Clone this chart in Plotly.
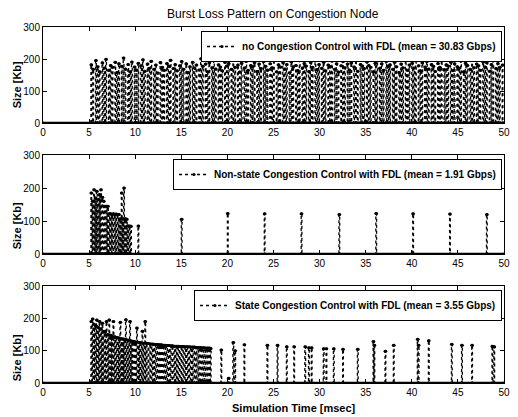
import plotly.graph_objects as go

# ---------------- data ----------------
title_text = "Burst Loss Pattern on Congestion Node"
x_title = "Simulation Time [msec]"
y_title = "Size [Kb]"
x_ticks = [0, 5, 10, 15, 20, 25, 30, 35, 40, 45, 50]
y_ticks = [0, 100, 200, 300]

series_names = [
    "no Congestion Control with FDL (mean = 30.83 Gbps)",
    "Non-state Congestion Control with FDL (mean = 1.91 Gbps)",
    "State Congestion Control with FDL (mean = 3.55 Gbps)",
]

# panel 1: no congestion control (burst times [msec], burst sizes [Kb])
top_times = [
    5.2, 5.4, 5.7, 5.9, 6.1, 6.4, 6.6, 6.8, 7.1, 7.3,
    7.5, 7.8, 8.0, 8.2, 8.5, 8.7, 8.9, 9.2, 9.4, 9.6,
    9.9, 10.1, 10.3, 10.6, 10.8, 11.0, 11.3, 11.5, 11.7, 12.0,
    12.2, 12.4, 12.7, 12.9, 13.1, 13.4, 13.6, 13.8, 14.1, 14.3,
    14.5, 14.8, 15.0, 15.2, 15.5, 15.7, 15.9, 16.2, 16.4, 16.6,
    16.9, 17.1, 17.3, 17.6, 17.8, 18.0, 18.3, 18.5, 18.7, 19.0,
    19.2, 19.4, 19.7, 19.9, 20.1, 20.4, 20.6, 20.8, 21.1, 21.3,
    21.5, 21.8, 22.0, 22.2, 22.5, 22.7, 22.9, 23.2, 23.4, 23.6,
    23.9, 24.1, 24.3, 24.6, 24.8, 25.0, 25.3, 25.5, 25.7, 26.0,
    26.2, 26.4, 26.7, 26.9, 27.1, 27.4, 27.6, 27.8, 28.1, 28.3,
    28.5, 28.8, 29.0, 29.2, 29.5, 29.7, 29.9, 30.2, 30.4, 30.6,
    30.9, 31.1, 31.3, 31.6, 31.8, 32.0, 32.3, 32.5, 32.7, 33.0,
    33.2, 33.4, 33.7, 33.9, 34.1, 34.4, 34.6, 34.8, 35.1, 35.3,
    35.5, 35.8, 36.0, 36.2, 36.5, 36.7, 36.9, 37.2, 37.4, 37.6,
    37.9, 38.1, 38.3, 38.6, 38.8, 39.0, 39.3, 39.5, 39.7, 40.0,
    40.2, 40.4, 40.7, 40.9, 41.1, 41.4, 41.6, 41.8, 42.1, 42.3,
    42.5, 42.8, 43.0, 43.2, 43.5, 43.7, 43.9, 44.2, 44.4, 44.6,
    44.9, 45.1, 45.3, 45.6, 45.8, 46.0, 46.3, 46.5, 46.7, 47.0,
    47.2, 47.4, 47.7, 47.9, 48.1, 48.4, 48.6, 48.8, 49.1, 49.3,
    49.5, 49.8,
]
top_sizes = [
    182, 168, 195, 176, 160, 188, 172, 199, 165, 180,
    174, 190, 158, 185, 177, 203, 169, 183, 160, 191,
    175, 166, 187, 179, 198, 162, 184, 171, 193, 168,
    181, 156, 189, 174, 165, 186, 178, 196, 170, 183,
    163, 179, 192, 168, 185, 158, 176, 190, 172, 181,
    166, 201, 177, 184, 160, 188, 173, 195, 169, 182,
    175, 163, 190, 178, 186, 168, 199, 174, 181, 159,
    187, 172, 193, 165, 180, 176, 189, 161, 184, 170,
    192, 177, 166, 185, 173, 198, 160, 182, 175, 188,
    169, 183, 157, 191, 176, 180, 164, 195, 172, 186,
    178, 161, 189, 174, 200, 167, 183, 171, 190, 163,
    181, 176, 194, 168, 185, 159, 179, 192, 173, 184,
    166, 188, 175, 197, 162, 183, 178, 170, 191, 180,
    174, 160, 187, 199, 171, 185, 165, 193, 177, 182,
    168, 190, 176, 158, 184, 173, 196, 165, 181, 187,
    172, 200, 179, 163, 188, 175, 192, 169, 183, 177,
    161, 186, 174, 195, 167, 182, 178, 190, 164, 185,
    176, 171, 194, 160, 187, 180, 168, 198, 173, 184,
    179, 165, 191, 175, 188, 162, 183, 202, 170, 186,
    174, 181,
]

# panel 2: non-state congestion control
mid_times = [
    5.2, 5.35, 5.5, 5.65, 5.8, 5.95, 6.1, 6.25, 6.4, 6.55,
    6.7, 6.85, 7.0, 7.15, 7.3, 7.45, 7.6, 7.75, 7.9, 8.05,
    8.2, 8.35, 8.5, 8.6, 8.75, 8.9, 9.05, 9.2, 9.35, 9.5,
    10.3, 15.0, 20.0, 24.0, 28.0, 32.1, 36.1, 40.1, 44.1, 48.1,
]
mid_sizes = [
    185, 160, 195, 170, 190, 165, 180, 195, 172, 160,
    145, 145, 145, 122, 122, 120, 122, 120, 121, 120,
    120, 107, 185, 107, 200, 107, 105, 85, 85, 84,
    85, 105, 123, 122, 122, 120, 123, 122, 121, 120,
]

# panel 3: state congestion control
bot_times = [
    5.2, 5.35, 5.5, 5.65, 5.8, 5.95, 6.1, 6.25, 6.4, 6.55,
    6.7, 6.85, 7.0, 7.15, 7.3, 7.45, 7.6, 7.75, 7.9, 8.05,
    8.2, 8.35, 8.5, 8.65, 8.8, 8.95, 9.1, 9.25, 9.4, 9.55,
    9.7, 9.85, 10.0, 10.15, 10.3, 10.45, 10.6, 10.75, 10.9, 11.05,
    11.2, 11.4, 11.6, 11.8, 12.0, 12.2, 12.4, 12.6, 12.8, 13.0,
    13.2, 13.4, 13.6, 13.8, 14.0, 14.2, 14.4, 14.6, 14.8, 15.0,
    15.2, 15.4, 15.6, 15.8, 16.0, 16.2, 16.4, 16.6, 16.8, 17.0,
    17.2, 17.4, 17.6, 17.8, 18.0, 18.15,
    19.3, 20.1, 20.6, 20.8, 21.8, 24.3, 25.4, 26.4, 27.2, 28.4,
    28.8, 29.1, 30.4, 30.7, 31.5, 32.5, 34.1, 35.8, 35.9, 37.1,
    38.0, 40.6, 40.7, 41.8, 44.3, 45.4, 46.5, 48.7, 48.9,
]
bot_sizes = [
    190, 198, 182, 178, 195, 172, 190, 168, 185, 160,
    158, 190, 150, 195, 148, 145, 190, 143, 141, 140,
    139, 188, 137, 136, 135, 196, 133, 132, 190, 130,
    129, 128, 127, 170, 126, 125, 124, 160, 123, 190,
    123, 122, 121, 121, 120, 119, 119, 118, 118, 117,
    117, 116, 116, 115, 115, 114, 114, 114, 113, 113,
    113, 112, 112, 112, 111, 111, 111, 110, 110, 110,
    109, 109, 108, 108, 108, 107,
    102, 15, 125, 100, 118, 117, 117, 112, 112, 112,
    109, 109, 106, 106, 106, 104, 104, 128, 117, 98,
    117, 135, 117, 131, 120, 117, 117, 114, 112,
]

# ---------------- geometry (page pixels) ----------------
PAGE_OFF = 8                      # default body margin of the html page
W, H = 518 - PAGE_OFF, 417 - PAGE_OFF
PL, PR, PT, PB = 43, 510, 27, 383  # plot area on the page
ML, MR, MT, MB = PL - PAGE_OFF, 518 - PR, PT - PAGE_OFF, 417 - PB
PW, PH = PR - PL, PB - PT


def px_x(px):
    return (px - PL) / PW


def px_y(py):
    return (PB - py) / PH


panels_px = [(27, 123), (155, 254), (286, 383)]  # top/bottom pixel rows of each panel
PULSE = 0.08  # drawn width of each burst pulse [msec]


def pulse_series(times, sizes, x_end):
    xs, ys = [x_ticks[0]], [0]
    for t, s in zip(times, sizes):
        xs += [t, t, t + PULSE, t + PULSE]
        ys += [0, s, s, 0]
    xs.append(x_end)
    ys.append(0)
    return xs, ys


fig = go.Figure()
datasets = [(top_times, top_sizes), (mid_times, mid_sizes), (bot_times, bot_sizes)]
font_family = "Liberation Sans, Arial, sans-serif"

for i, ((tt, ss), name) in enumerate(zip(datasets, series_names)):
    k = "" if i == 0 else str(i + 1)
    xs, ys = pulse_series(tt, ss, x_ticks[-1])
    fig.add_trace(go.Scatter(
        x=[x_ticks[0], x_ticks[-1]], y=[0, 0], mode="lines",
        line=dict(color="black", width=2.5), showlegend=False,
        xaxis="x" + k, yaxis="y" + k, hoverinfo="skip"))
    fig.add_trace(go.Scatter(
        x=xs, y=ys, mode="lines+markers", name=name,
        line=dict(color="black", width=1.3, dash="dot"),
        marker=dict(color="black", size=3),
        xaxis="x" + k, yaxis="y" + k,
        legend="legend" + k, showlegend=True, cliponaxis=True))

layout = dict(
    width=W, height=H,
    margin=dict(l=ML, r=MR, t=MT, b=MB),
    paper_bgcolor="white", plot_bgcolor="white",
    font=dict(family=font_family, color="black", size=10),
    showlegend=True,
)

axis_common = dict(
    ticks="inside", ticklen=4, tickwidth=1, tickcolor="black",
    showline=True, linecolor="black", linewidth=1, mirror="ticks",
    showgrid=False, zeroline=False,
    tickfont=dict(family=font_family, size=10, color="black"),
)

for i, (ptop, pbot) in enumerate(panels_px):
    k = "" if i == 0 else str(i + 1)
    layout["xaxis" + k] = dict(
        axis_common, domain=[0, 1], range=[x_ticks[0], x_ticks[-1]],
        tickvals=x_ticks, anchor="y" + k)
    layout["yaxis" + k] = dict(
        axis_common, domain=[px_y(pbot), px_y(ptop)],
        range=[y_ticks[0], y_ticks[-1]], tickvals=y_ticks, anchor="x" + k)
    layout["legend" + k] = dict(
        x=px_x(508), xanchor="right", y=px_y(ptop + 4), yanchor="top",
        bgcolor="white", bordercolor="black", borderwidth=1,
        font=dict(family=font_family, size=10, color="black", weight="bold"),
        itemwidth=30, tracegroupgap=0,
    )

annotations = [
    dict(text=title_text, x=px_x(276), y=px_y(14), xref="paper", yref="paper",
         xanchor="center", yanchor="middle", showarrow=False,
         font=dict(size=12, family=font_family, color="black")),
    dict(text="<b>" + x_title + "</b>", x=px_x(297), y=px_y(408), xref="paper",
         yref="paper", xanchor="center", yanchor="middle", showarrow=False,
         font=dict(size=11, family=font_family, color="black")),
]
for yc in [85, 226, 358]:
    annotations.append(dict(
        text="<b>" + y_title + "</b>", x=px_x(17), y=px_y(yc), xref="paper",
        yref="paper", xanchor="center", yanchor="middle", showarrow=False,
        textangle=-90,
        font=dict(size=11, family=font_family, color="black")))
layout["annotations"] = annotations

fig.update_layout(**layout)
fig.write_html("out.html")
